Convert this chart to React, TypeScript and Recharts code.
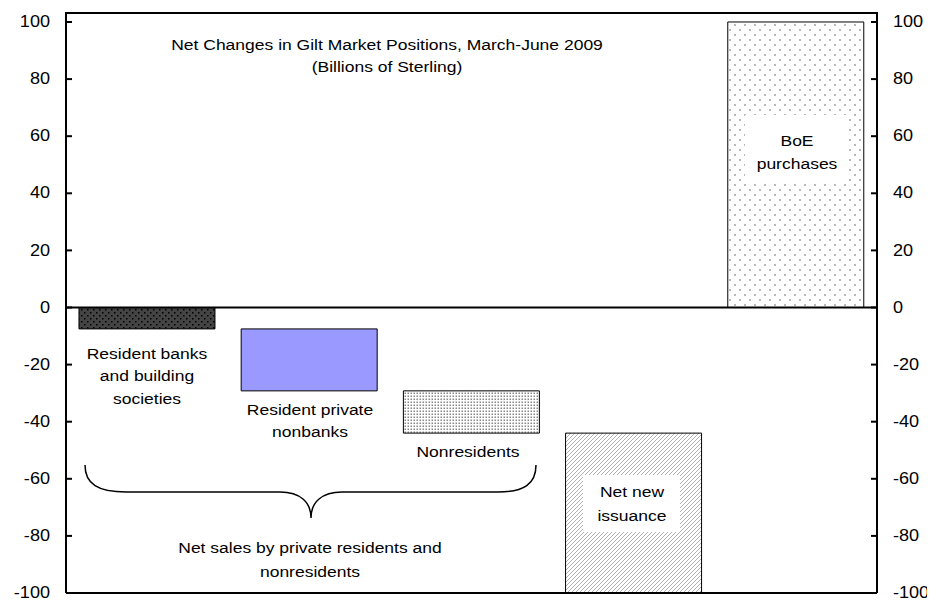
import React from "react";
import { BarChart, Bar, XAxis, YAxis, Cell, ReferenceLine } from "recharts";

const categories = [
  "Resident banks and building societies",
  "Resident private nonbanks",
  "Nonresidents",
  "Net new issuance",
  "BoE purchases",
];
const rangeLow = [-7.5, -29.2, -44, -100, 0];
const rangeHigh = [0, -7.5, -29.2, -44, 100];
const yTicks = [-100, -80, -60, -40, -20, 0, 20, 40, 60, 80, 100];
const yMin = -100;
const yMax = 103.15;
const fills = ["url(#pDark)", "#9999FF", "url(#pDense)", "url(#pHatch)", "url(#pSparse)"];

const data = categories.map((name, i) => ({ name, range: [rangeLow[i], rangeHigh[i]] }));

const FONT = "'Liberation Sans', Arial, sans-serif";
const SX = 1.13;

const T = ({ x, y, children, anchor = "middle", size = 15.5 }: any) => (
  <text
    transform={`translate(${x},${y}) scale(${SX},1)`}
    textAnchor={anchor}
    dominantBaseline="central"
    fontFamily={FONT}
    fontSize={size}
    fill="#000"
  >
    {children}
  </text>
);

const LeftTick = (props: any) => {
  const { y, payload } = props;
  return (
    <g>
      <line x1={58} x2={64} y1={y} y2={y} stroke="#000" strokeWidth={2} />
      <T x={50 - 8} y={y} anchor="end" size={16}>{payload.value}</T>
    </g>
  );
};
const RightTick = (props: any) => {
  const { y, payload } = props;
  return (
    <g>
      <line x1={863} x2={869} y1={y} y2={y} stroke="#000" strokeWidth={2} />
      <T x={893 - 8} y={y} anchor="start" size={16}>{payload.value}</T>
    </g>
  );
};

export default function App() {
  const W = 927;
  const H = 592;
  return (
    <div style={{ position: "relative", width: W, height: H }}>
      <BarChart
        width={W}
        height={H}
        data={data}
        margin={{ top: 5, right: 0, bottom: 6, left: 0 }}
        barCategoryGap="8%"
      >
        <XAxis dataKey="name" tick={false} height={1} axisLine={{ stroke: "#000", strokeWidth: 2 }} tickLine={false} />
        <YAxis
          yAxisId="left"
          width={58}
          domain={[yMin, yMax]}
          ticks={yTicks}
          interval={0}
          allowDataOverflow
          axisLine={{ stroke: "#000", strokeWidth: 2 }}
          tickLine={false}
          tick={<LeftTick />}
        />
        <YAxis
          yAxisId="right"
          orientation="right"
          width={58}
          domain={[yMin, yMax]}
          ticks={yTicks}
          interval={0}
          allowDataOverflow
          axisLine={{ stroke: "#000", strokeWidth: 2 }}
          tickLine={false}
          tick={<RightTick />}
        />
        <Bar dataKey="range" yAxisId="left" isAnimationActive={false} stroke="#000" strokeWidth={1}>
          {data.map((d, i) => (
            <Cell key={d.name} fill={fills[i]} />
          ))}
        </Bar>
        <ReferenceLine y={0} yAxisId="left" stroke="#000" strokeWidth={2} />
      </BarChart>
      <svg
        width={W}
        height={H}
        style={{ position: "absolute", left: 0, top: 0, pointerEvents: "none" }}
      >
        <defs>
          <pattern id="pDark" width="6" height="6" patternUnits="userSpaceOnUse">
            <rect width="6" height="6" fill="#444" />
            <rect x="1" y="1" width="1.5" height="1.5" fill="#000" />
            <rect x="4" y="4" width="1.5" height="1.5" fill="#000" />
          </pattern>
          <pattern id="pDense" width="3" height="3" patternUnits="userSpaceOnUse">
            <rect width="3" height="3" fill="#fff" />
            <rect x="0.5" y="0.5" width="1.5" height="1.5" fill="#888" />
          </pattern>
          <pattern id="pHatch" width="4" height="4" patternUnits="userSpaceOnUse">
            <rect width="4" height="4" fill="#fff" />
            <path d="M-1,1 l2,-2 M0,4 l4,-4 M3,5 l2,-2" stroke="#a8a8a8" strokeWidth="0.9" />
          </pattern>
          <pattern id="pSparse" width="10" height="10" patternUnits="userSpaceOnUse">
            <rect width="10" height="10" fill="#fff" />
            <circle cx="2" cy="2" r="0.9" fill="#999" />
            <circle cx="7" cy="7" r="0.9" fill="#999" />
          </pattern>
        </defs>

        <line x1={57} x2={870} y1={5} y2={5} stroke="#000" strokeWidth={2} />

        <T x={379} y={37}>Net Changes in Gilt Market Positions, March-June 2009</T>
        <T x={379} y={59}>(Billions of Sterling)</T>

        <T x={139} y={346}>Resident banks</T>
        <T x={139} y={368}>and building</T>
        <T x={139} y={391}>societies</T>

        <T x={302} y={402}>Resident private</T>
        <T x={302} y={424}>nonbanks</T>

        <T x={460} y={444}>Nonresidents</T>

        <rect x={575} y={467} width={97} height={57} fill="#fff" />
        <T x={624} y={484}>Net new</T>
        <T x={624} y={508}>issuance</T>

        <rect x={737} y={107} width={103} height={67} fill="#fff" />
        <T x={789} y={133}>BoE</T>
        <T x={789} y={156}>purchases</T>

        <path
          d="M77,457 C77,476 90,484 118,484 L272,484 C292,484 303,494 303,510 C303,494 314,484 334,484 L490,484 C516,484 528,476 528,457"
          fill="none"
          stroke="#000"
          strokeWidth={1.5}
        />
        <T x={302} y={540}>Net sales by private residents and</T>
        <T x={302} y={564}>nonresidents</T>
      </svg>
    </div>
  );
}
